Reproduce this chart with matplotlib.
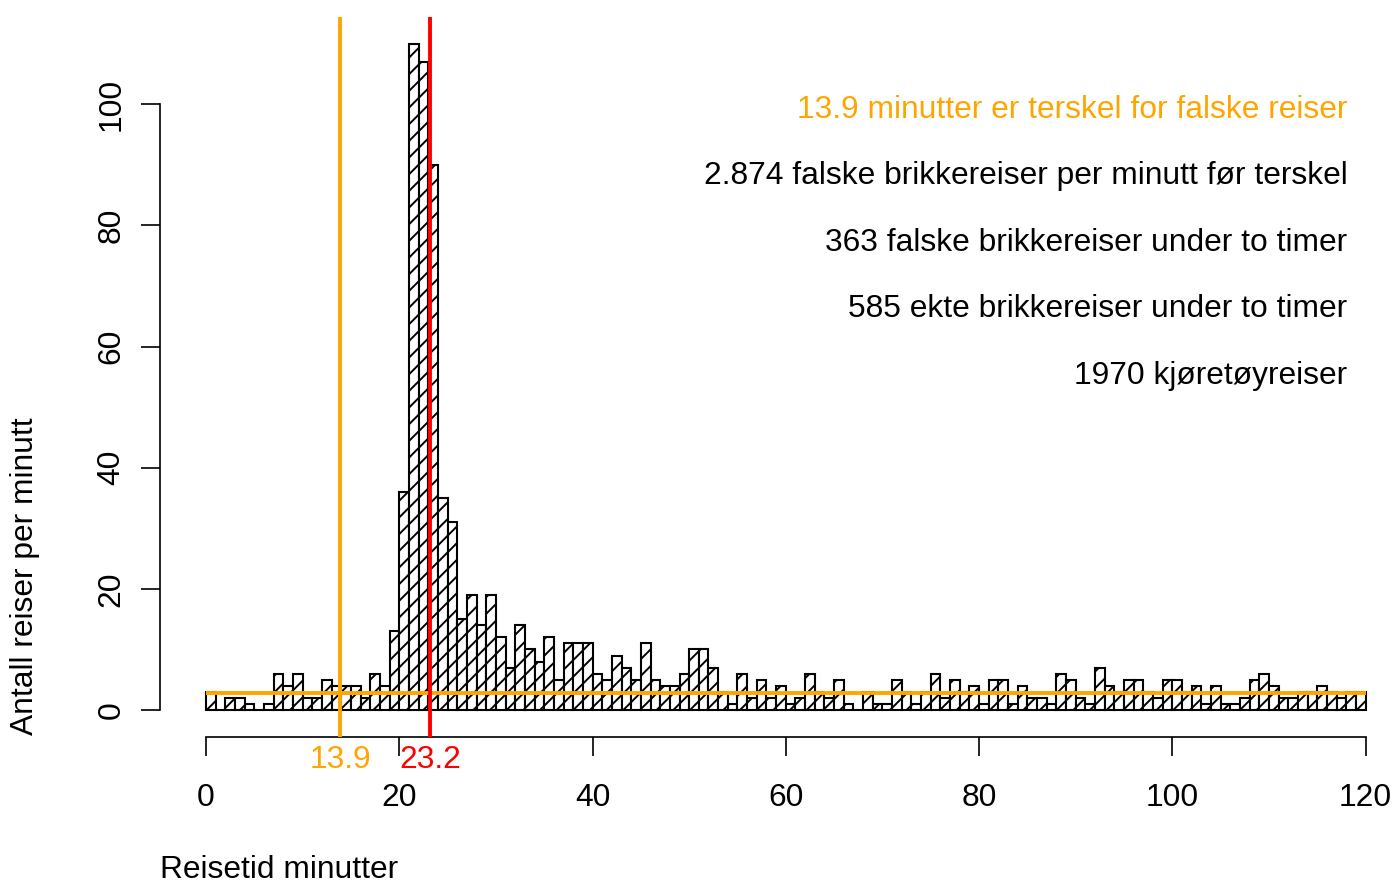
import matplotlib
matplotlib.use("Agg")
import matplotlib.pyplot as plt
import numpy as np

plt.rcParams['font.family'] = ['Liberation Sans', 'DejaVu Sans']
plt.rcParams['hatch.linewidth'] = 1.4

# ---- data ----
bin_edges = list(range(0, 121))
counts = [3, 0, 2, 2, 1, 0, 1, 6, 4, 6,
          2, 2, 5, 4, 4, 4, 2, 6, 4, 13,
          36, 110, 107, 90, 35, 31, 15, 19, 14, 19,
          12, 7, 14, 10, 8, 12, 5, 11, 11, 11,
          6, 5, 9, 7, 5, 11, 5, 4, 4, 6,
          10, 10, 7, 3, 1, 6, 2, 5, 2, 4,
          1, 2, 6, 3, 2, 5, 1, 0, 3, 1,
          1, 5, 3, 1, 3, 6, 2, 5, 3, 4,
          1, 5, 5, 1, 4, 2, 2, 1, 6, 5,
          2, 1, 7, 4, 3, 5, 5, 3, 2, 5,
          5, 3, 4, 1, 4, 1, 1, 2, 5, 6,
          4, 2, 2, 3, 3, 4, 3, 2, 3, 3]
threshold = 13.9
mode_value = 23.2
false_rate = 2.874
x_ticks = [0, 20, 40, 60, 80, 100, 120]
y_ticks = [0, 20, 40, 60, 80, 100]
info_lines = ["13.9 minutter er terskel for falske reiser",
              "2.874 falske brikkereiser per minutt før terskel",
              "363 falske brikkereiser under to timer",
              "585 ekte brikkereiser under to timer",
              "1970 kjøretøyreiser"]
info_colors = ["#FFA500", "black", "black", "black", "black"]
x_label = "Reisetid minutter"
y_label = "Antall reiser per minutt"

W, H = 1396, 884
fig = plt.figure(figsize=(W / 100, H / 100), dpi=100)
left_px, right_px = 159.6, 1412.0
top_px, bottom_px = 17.0, 736.7
ax = fig.add_axes([left_px / W, (H - bottom_px) / H,
                   (right_px - left_px) / W, (bottom_px - top_px) / H])
ax.set_xlim(-4.8, 124.8)
ax.set_ylim(-4.4, 114.4)
ax.patch.set_visible(False)

FS = 22.9
# histogram bars
ax.bar(bin_edges[:-1], counts, width=1, align='edge', color='white',
       edgecolor='black', hatch='//', linewidth=1.5, zorder=2)

# threshold lines
ax.plot([0, 120], [false_rate, false_rate], color='#FFA500', lw=2.8,
        zorder=3, solid_capstyle='butt')
ax.axvline(threshold, color='#FFA500', lw=2.8, zorder=3)
ax.axvline(mode_value, color='#FF0000', lw=2.8, zorder=3)

# axes styling like R base graphics
for s in ['top', 'right']:
    ax.spines[s].set_visible(False)
ax.spines['left'].set_bounds(0, 100)
ax.spines['bottom'].set_bounds(0, 120)
ax.spines['left'].set_linewidth(1.2)
ax.spines['bottom'].set_linewidth(1.2)
ax.set_xticks(x_ticks)
ax.set_xticklabels([str(v) for v in x_ticks])
ax.set_yticks(y_ticks)
ax.set_yticklabels([str(v) for v in y_ticks], rotation=90, va='center')
ax.tick_params(axis='both', direction='out', length=13.7, width=1.2,
               labelsize=FS)
ax.tick_params(axis='x', pad=19.3)
ax.tick_params(axis='y', pad=10)

# coloured labels at the vertical lines
ax.text(threshold, -9.64, "13.9", color='#FFA500', fontsize=FS,
        ha='center', va='baseline', clip_on=False)
ax.text(mode_value, -9.64, "23.2", color='#FF0000', fontsize=FS,
        ha='center', va='baseline', clip_on=False)

# info text on the right
info_y = [97.8, 86.8, 75.8, 64.8, 53.8]
for txt, col, yy in zip(info_lines, info_colors, info_y):
    ax.text(118.1, yy, txt, color=col, fontsize=FS, ha='right', va='baseline')

# axis titles
fig.text(160 / W, 6.5 / H, x_label, fontsize=FS, ha='left', va='baseline')
fig.text(25 / W, (H - 735) / H, y_label, fontsize=FS, rotation=90,
         ha='center', va='bottom')

fig.savefig("out.png", dpi=100)
